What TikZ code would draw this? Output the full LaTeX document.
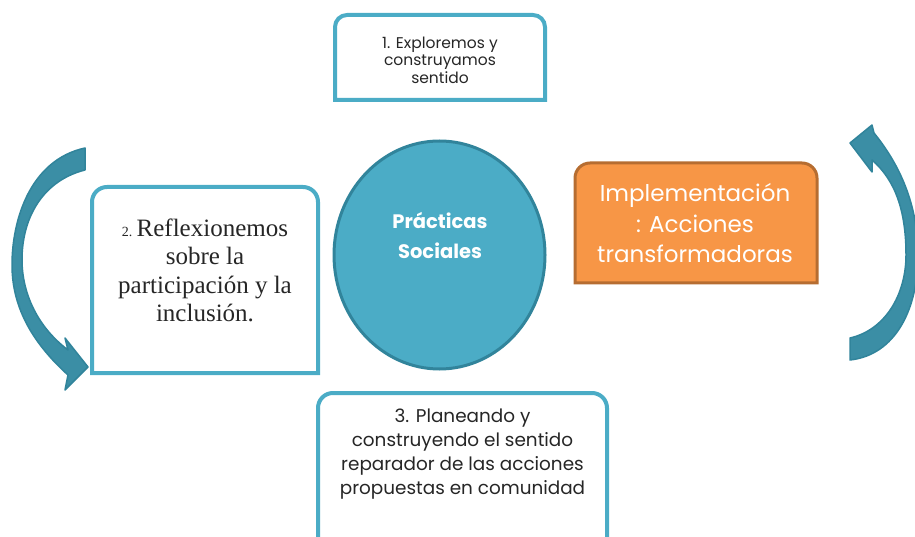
\documentclass[tikz,border=0pt]{standalone}
\usepackage{fontspec}
\setmainfont{Liberation Serif}
\newfontfamily\gothic{Poppins}
\usetikzlibrary{shapes.geometric}
\definecolor{tealb}{HTML}{4BACC6}
\definecolor{tealdk}{HTML}{31849B}
\definecolor{tealarrow}{HTML}{3B8EA5}
\definecolor{orangef}{HTML}{F79646}
\definecolor{oranged}{HTML}{B66D31}
\definecolor{txtgray}{HTML}{262626}
\newcommand\tframe[3][]{\draw[#1] (#2.south west) -- ([yshift=-#3]#2.north west) arc[start angle=180,end angle=90,radius=#3] -- ([xshift=-#3]#2.north east) arc[start angle=90,end angle=0,radius=#3] -- (#2.south east) -- cycle;}
\tikzset{
  frame/.style={draw=none,inner sep=0pt,outer sep=0pt},
  tealframe/.style={draw=tealb,line width=4pt,fill=white},
  gtext/.style={align=center,text=txtgray,inner sep=0pt,font=\gothic},
  curvedarrow/.style={fill=tealarrow,draw=tealdk,line width=1.5pt,line join=round}
}
\begin{document}
\begin{tikzpicture}[x=1pt,y=1pt]
\useasboundingbox (0,0) rectangle (915,536);
\clip (0,0) rectangle (915,536);
% box frames
\node[frame,minimum width=210pt,minimum height=85pt] (b1) at (440,478.5) {};
\node[frame,minimum width=226pt,minimum height=186pt] (b2) at (205,256) {};
\node[frame,minimum width=289pt,minimum height=152pt] (b3) at (462.5,67) {};
\node[frame,minimum width=242pt,minimum height=120pt] (b4) at (696,313) {};
\tframe[tealframe]{b1}{12pt}
\tframe[tealframe]{b2}{15pt}
\tframe[tealframe]{b3}{15pt}
\tframe[fill=orangef,draw=oranged,line width=3pt]{b4}{15pt}
% circle
\node[ellipse,fill=tealb,draw=tealdk,line width=3pt,minimum width=211pt,minimum height=228pt,inner sep=0pt] (c) at (439.5,281) {};
\node[gtext,text=white,font=\gothic\bfseries\fontsize{19.5}{30}\selectfont] (ct) at (440,301) {Prácticas\\Sociales};
% texts
\node[gtext,font=\gothic\fontsize{15.5}{17.5}\selectfont] (t1) at (440,476) {1. Exploremos y\\construyamos\\sentido};
\node[align=center,text=txtgray,inner sep=0pt,font=\fontsize{25}{28.5}\selectfont] (t2) at (205,265.5) {{\fontsize{14}{14}\selectfont 2.}\,Reflexionemos\\sobre la\\participación y la\\inclusión.};
\node[gtext,font=\gothic\fontsize{18.4}{24}\selectfont] (t3) at (462.5,82) {3. Planeando y\\construyendo el sentido\\reparador de las acciones\\propuestas en comunidad};
\node[gtext,text=white,font=\gothic\fontsize{23}{30.5}\selectfont] (t4) at (695,312.5) {Implementación\\: Acciones\\transformadoras};
% curved arrows
\coordinate (la) at (85,388);
\coordinate (lb) at (85,366);
\draw[curvedarrow] (la) .. controls (30,376) and (12,316) .. (12,271) .. controls (12,226) and (35,191) .. (68,161) -- (65,146) -- (88,169) -- (65,198) -- (68,186) .. controls (35,211) and (22,246) .. (22,276) .. controls (22,321) and (45,356) .. (lb) -- cycle;
\coordinate (rc) at (850,176);
\coordinate (rd) at (850,198);
\draw[curvedarrow] (rc) .. controls (895,181) and (918,226) .. (918,281) .. controls (918,331) and (900,371) .. (874,403) -- (872,411) -- (850,393) -- (872,364) -- (872,376) .. controls (895,356) and (906,326) .. (906,281) .. controls (906,241) and (885,206) .. (rd) -- cycle;
\end{tikzpicture}
\end{document}
